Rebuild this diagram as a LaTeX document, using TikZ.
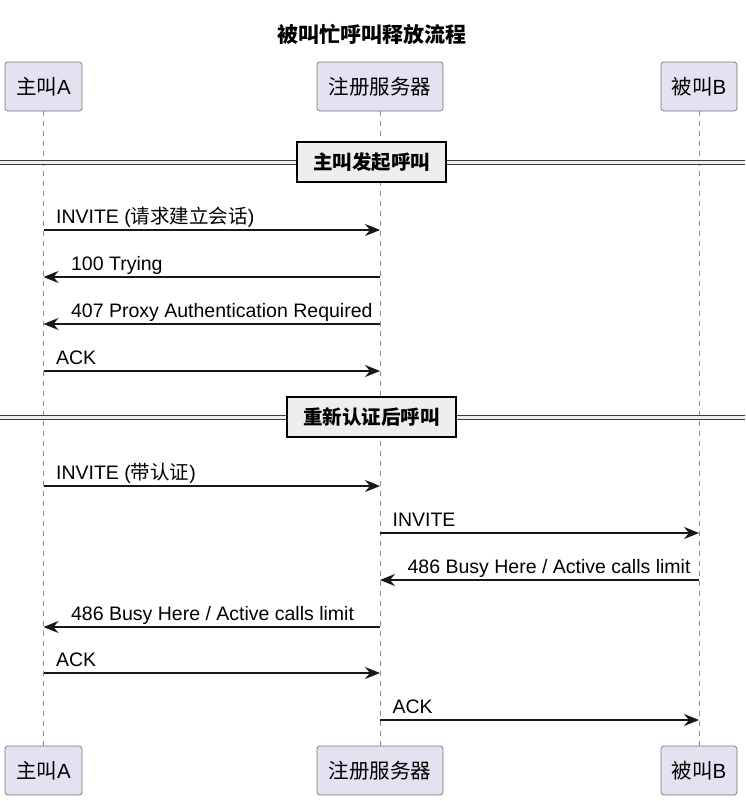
\documentclass[tikz,border=0pt]{standalone}
\usepackage{fontspec}
\setmainfont{Liberation Sans}
\newfontfamily\cjk{Noto Sans CJK SC}
\usepackage{xcolor}
\usetikzlibrary{positioning,calc,arrows.meta}
\definecolor{partfill}{HTML}{E2E2F0}
\definecolor{linedark}{HTML}{181818}
\definecolor{divfill}{HTML}{EEEEEE}

\begin{document}
\begin{tikzpicture}[x=1pt, y=-1pt,
        party/.style={draw=linedark!60, fill=partfill, rounded corners=3pt, line width=0.7pt, minimum height=49pt, inner sep=0pt, font=\fontsize{20.5}{22}\selectfont},
        life/.style={draw=gray!90, dash pattern=on 5pt off 5pt, line width=0.7pt},
        msg/.style={-{Stealth[length=15pt, width=12pt, inset=5pt]}, line width=1.3pt, draw=linedark},
        lbl/.style={anchor=base west, inner sep=0pt, font=\fontsize{19.5}{22}\selectfont, yshift=7pt},
        divline/.style={draw=linedark!85, double=divfill, double distance=3.5pt, line width=1pt},
        divbox/.style={draw=black, fill=divfill, line width=2pt, minimum height=40pt, inner sep=0pt, font=\cjk\bfseries\fontsize{19.5}{22}\selectfont}
    ]
        \useasboundingbox (0,0) rectangle (745,801);

        \node (title) at (372,34) [font=\cjk\bfseries\fontsize{21}{24}\selectfont] {被叫忙呼叫释放流程};

        % Participants
        \node (A) at (43.5,86.5) [party, minimum width=77pt] {{\cjk 主叫}A};
        \node (S) at (380,86.5) [party, minimum width=126pt] {\cjk 注册服务器};
        \node (B) at (699,86.5) [party, minimum width=76pt] {{\cjk 被叫}B};
        \node (A2) at (43.5,770.5) [party, minimum width=77pt] {{\cjk 主叫}A};
        \node (S2) at (380,770.5) [party, minimum width=126pt] {\cjk 注册服务器};
        \node (B2) at (699,770.5) [party, minimum width=76pt] {{\cjk 被叫}B};

        % Lifelines
        \draw [life] (A.south) -- (A2.north);
        \draw [life] (S.south) -- (S2.north);
        \draw [life] (B.south) -- (B2.north);

        % First call
        \draw [divline] (0,162.5) -- (745,162.5);
        \node (div1) at (371.5,162) [divbox, minimum width=149pt] {主叫发起呼叫};

        \draw [msg] (A |- 0,230) -- node[lbl, at start, xshift=12pt] {INVITE ({\cjk 请求建立会话})} (S |- 0,230);
        \draw [msg] (S |- 0,277) -- node[lbl, at end, xshift=27pt] {100 Trying} (A |- 0,277);
        \draw [msg] (S |- 0,324) -- node[lbl, at end, xshift=27pt] {407 Proxy Authentication Required} (A |- 0,324);
        \draw [msg] (A |- 0,371) -- node[lbl, at start, xshift=12pt] {ACK} (S |- 0,371);

        % Call after re-authentication
        \draw [divline] (0,417.5) -- (745,417.5);
        \node (div2) at (371.5,417) [divbox, minimum width=169pt] {重新认证后呼叫};

        \draw [msg] (A |- 0,486) -- node[lbl, at start, xshift=12pt] {INVITE ({\cjk 带认证})} (S |- 0,486);
        \draw [msg] (S |- 0,533) -- node[lbl, at start, xshift=12pt] {INVITE} (B |- 0,533);
        \draw [msg] (B |- 0,580) -- node[lbl, at end, xshift=27pt] {486 Busy Here / Active calls limit} (S |- 0,580);
        \draw [msg] (S |- 0,627) -- node[lbl, at end, xshift=27pt] {486 Busy Here / Active calls limit} (A |- 0,627);
        \draw [msg] (A |- 0,673) -- node[lbl, at start, xshift=12pt] {ACK} (S |- 0,673);
        \draw [msg] (S |- 0,720) -- node[lbl, at start, xshift=12pt] {ACK} (B |- 0,720);
    \end{tikzpicture}
\end{document}
